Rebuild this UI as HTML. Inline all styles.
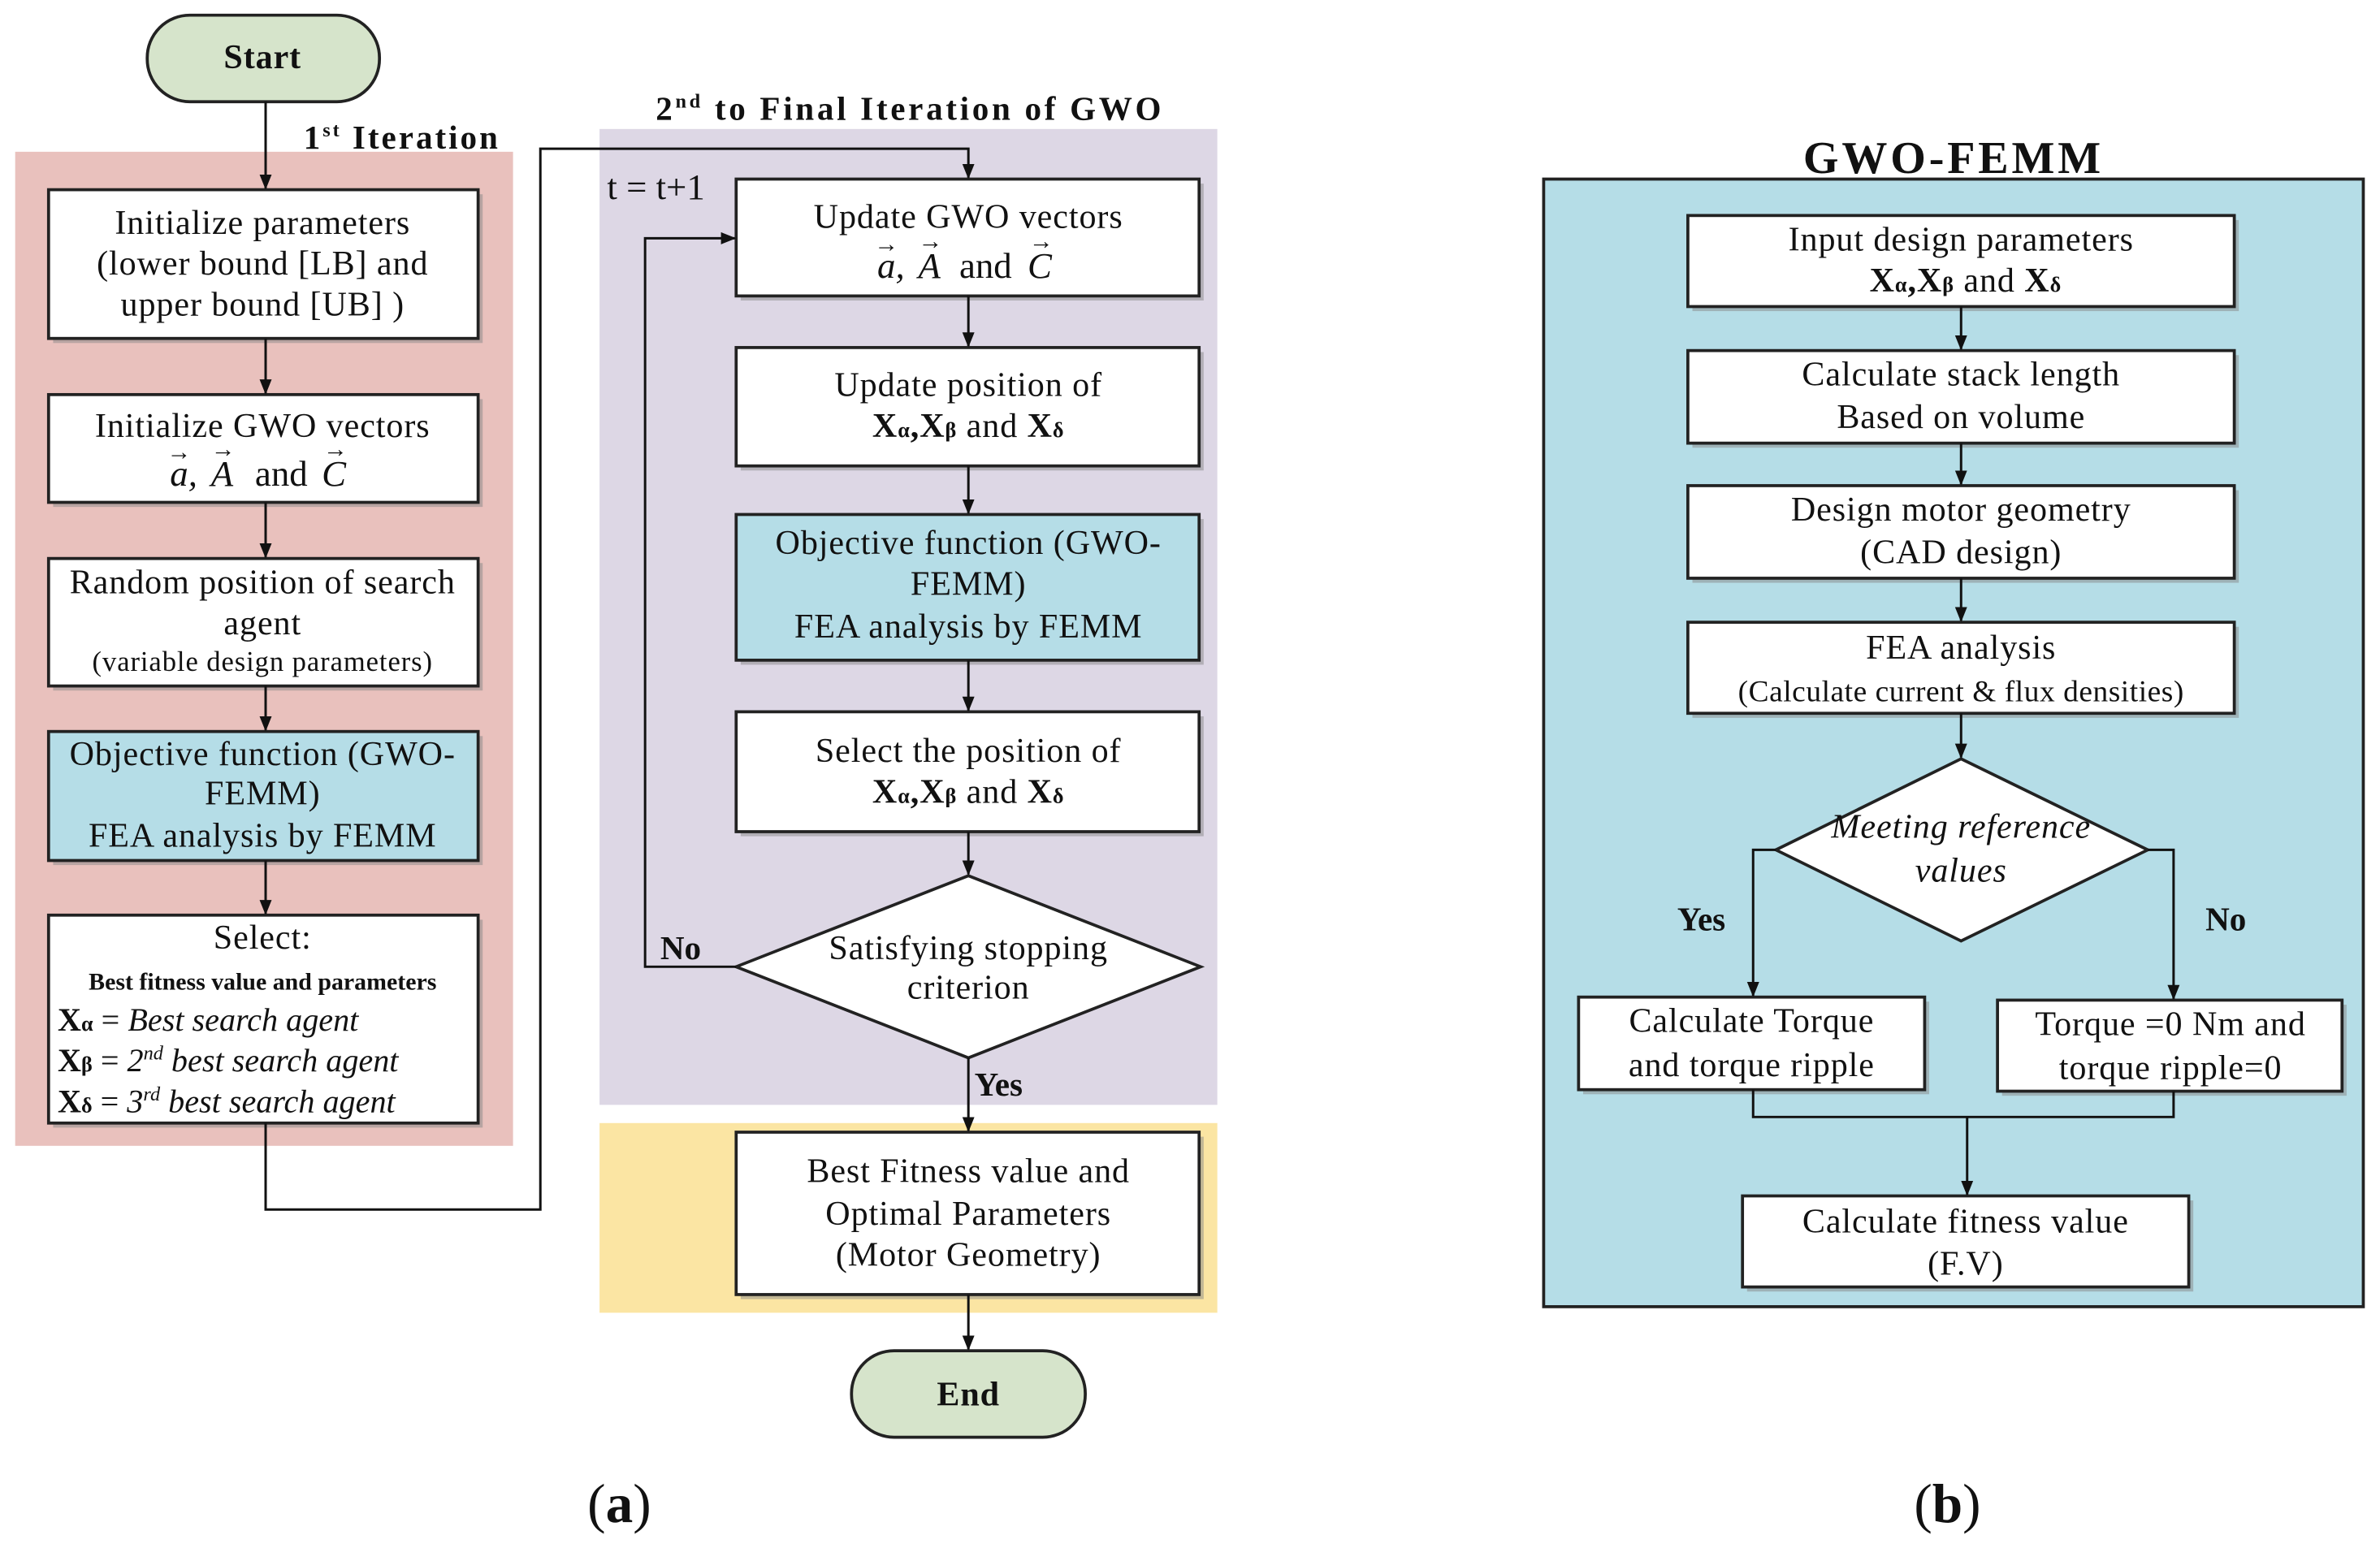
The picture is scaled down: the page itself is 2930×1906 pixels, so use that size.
<!DOCTYPE html>
<html><head><meta charset="utf-8"><style>
html,body{margin:0;padding:0;background:#fff;}
svg{display:block;}
text{font-family:"Liberation Serif",serif;fill:#111;}
</style></head><body>
<svg width="2930" height="1906" viewBox="0 0 1568 1020" preserveAspectRatio="none" xmlns="http://www.w3.org/2000/svg">
<defs>
<marker id="a" markerWidth="10" markerHeight="10" refX="9" refY="5" orient="auto" markerUnits="userSpaceOnUse"><path d="M0,1 L10,5 L0,9 z" fill="#111"/></marker>
</defs>
<g stroke="#222" stroke-width="1.6">
<rect x="10" y="100" width="328" height="655" fill="#e9c1bd" stroke="none"/>
<rect x="395" y="85" width="407" height="643" fill="#ddd7e5" stroke="none"/>
<rect x="395" y="740" width="407" height="125" fill="#fbe5a3" stroke="none"/>
<rect x="1017" y="118" width="540" height="743" fill="#b5dde7" stroke-width="2"/>
</g>
<g fill="#888" opacity="0.5">
<rect x="35" y="128" width="283" height="98"/><rect x="35" y="263" width="283" height="71"/>
<rect x="35" y="371" width="283" height="84"/><rect x="35" y="485" width="283" height="85"/>
<rect x="35" y="606" width="283" height="137"/>
<rect x="488" y="121" width="305" height="77"/><rect x="488" y="232" width="305" height="78"/>
<rect x="488" y="342" width="305" height="96"/><rect x="488" y="472" width="305" height="79"/>
<rect x="488" y="749" width="305" height="107"/>
<rect x="1115" y="145" width="360" height="60"/><rect x="1115" y="234" width="360" height="61"/>
<rect x="1115" y="323" width="360" height="61"/><rect x="1115" y="413" width="360" height="60"/>
<rect x="1043" y="660" width="228" height="61"/><rect x="1319" y="662" width="227" height="60"/>
<rect x="1151" y="791" width="294" height="60"/>
</g>
<g stroke="#222" stroke-width="2">
<rect x="97" y="10" width="153" height="57" rx="28" fill="#d6e4cb"/>
<rect x="561" y="890" width="154" height="57" rx="28" fill="#d6e4cb"/>
<rect x="32" y="125" width="283" height="98" fill="#fff"/>
<rect x="32" y="260" width="283" height="71" fill="#fff"/>
<rect x="32" y="368" width="283" height="84" fill="#fff"/>
<rect x="32" y="482" width="283" height="85" fill="#b5dde7"/>
<rect x="32" y="603" width="283" height="137" fill="#fff"/>
<rect x="485" y="118" width="305" height="77" fill="#fff"/>
<rect x="485" y="229" width="305" height="78" fill="#fff"/>
<rect x="485" y="339" width="305" height="96" fill="#b5dde7"/>
<rect x="485" y="469" width="305" height="79" fill="#fff"/>
<polygon points="638,577 791,637 638,697 485,637" fill="#fff"/>
<rect x="485" y="746" width="305" height="107" fill="#fff"/>
<rect x="1112" y="142" width="360" height="60" fill="#fff"/>
<rect x="1112" y="231" width="360" height="61" fill="#fff"/>
<rect x="1112" y="320" width="360" height="61" fill="#fff"/>
<rect x="1112" y="410" width="360" height="60" fill="#fff"/>
<polygon points="1292,500 1415,560 1292,620 1170,560" fill="#fff"/>
<rect x="1040" y="657" width="228" height="61" fill="#fff"/>
<rect x="1316" y="659" width="227" height="60" fill="#fff"/>
<rect x="1148" y="788" width="294" height="60" fill="#fff"/>
</g>
<g stroke="#111" stroke-width="1.6" fill="none" marker-end="url(#a)">
<path d="M175,67 V124"/><path d="M175,223 V259"/><path d="M175,331 V367"/>
<path d="M175,452 V481"/><path d="M175,567 V602"/>
<path d="M175,740 V797 H356 V98 H638 V117"/>
<path d="M638,195 V228"/><path d="M638,307 V338"/><path d="M638,435 V468"/>
<path d="M638,548 V576"/><path d="M485,637 H425 V157 H484"/>
<path d="M638,697 V745"/><path d="M638,853 V889"/>
<path d="M1292,202 V230"/><path d="M1292,292 V319"/><path d="M1292,381 V409"/><path d="M1292,470 V499"/>
<path d="M1170,560 H1155 V656"/><path d="M1415,560 H1432 V658"/>
<path d="M1296,736 V787"/>
</g>
<g stroke="#111" stroke-width="1.6" fill="none">
<path d="M1155,718 V736 H1432 V719"/>
</g>
<g font-size="22.5" text-anchor="middle" letter-spacing="0.5">
<text x="173" y="45" font-weight="bold">Start</text>
<text x="638" y="926" font-weight="bold">End</text>
<text x="173" y="154">Initialize parameters</text>
<text x="173" y="181">(lower bound [LB] and</text>
<text x="173" y="208">upper bound [UB] )</text>
<text x="173" y="288">Initialize GWO vectors</text>
<text x="173" y="391">Random position of search</text>
<text x="173" y="418">agent</text>
<text x="173" y="442" font-size="18.5">(variable design parameters)</text>
<text x="173" y="504">Objective  function (GWO-</text>
<text x="173" y="530">FEMM)</text>
<text x="173" y="558">FEA analysis by FEMM</text>
<text x="173" y="625">Select:</text>
<text x="173" y="652" font-size="16" font-weight="bold" letter-spacing="0">Best fitness value and parameters</text>
<text x="638" y="150">Update GWO vectors</text>
<text x="638" y="261">Update position of</text>
<text x="638" y="288"><tspan font-weight="bold">X<tspan font-size="14">α</tspan>,X<tspan font-size="14">β</tspan></tspan> and <tspan font-weight="bold">X<tspan font-size="14">δ</tspan></tspan></text>
<text x="638" y="365">Objective  function (GWO-</text>
<text x="638" y="392">FEMM)</text>
<text x="638" y="420">FEA analysis by FEMM</text>
<text x="638" y="502">Select the position of</text>
<text x="638" y="529"><tspan font-weight="bold">X<tspan font-size="14">α</tspan>,X<tspan font-size="14">β</tspan></tspan> and <tspan font-weight="bold">X<tspan font-size="14">δ</tspan></tspan></text>
<text x="638" y="632">Satisfying stopping</text>
<text x="638" y="658">criterion</text>
<text x="638" y="779">Best Fitness value and</text>
<text x="638" y="807">Optimal Parameters</text>
<text x="638" y="834">(Motor Geometry)</text>
<text x="1292" y="165">Input design parameters</text>
<text x="1295" y="192"><tspan font-weight="bold">X<tspan font-size="14">α</tspan>,X<tspan font-size="14">β</tspan></tspan> and <tspan font-weight="bold">X<tspan font-size="14">δ</tspan></tspan></text>
<text x="1292" y="254">Calculate stack length</text>
<text x="1292" y="282">Based on volume</text>
<text x="1292" y="343">Design motor geometry</text>
<text x="1292" y="371">(CAD design)</text>
<text x="1292" y="434">FEA analysis</text>
<text x="1292" y="462" font-size="20" letter-spacing="0.3">(Calculate current &amp; flux densities)</text>
<text x="1292" y="552" font-style="italic">Meeting reference</text>
<text x="1292" y="581" font-style="italic">values</text>
<text x="1154" y="680">Calculate Torque</text>
<text x="1154" y="709">and torque ripple</text>
<text x="1430" y="682">Torque =0 Nm and</text>
<text x="1430" y="711">torque ripple=0</text>
<text x="1295" y="812">Calculate fitness value</text>
<text x="1295" y="840">(F.V)</text>
</g>
<!-- vector notation left -->
<g font-size="24" font-style="italic">
<text x="112" y="320">a,</text><text x="139" y="320">A</text>
<text x="168" y="320" font-style="normal">and</text><text x="212" y="320">C</text>
<text x="578" y="183">a,</text><text x="605" y="183">A</text>
<text x="632" y="183" font-style="normal">and</text><text x="677" y="183">C</text>
</g>
<g font-size="16" font-style="normal">
<text x="110" y="303">→</text><text x="139" y="301">→</text><text x="213" y="301">→</text>
<text x="576" y="166">→</text><text x="605" y="164">→</text><text x="678" y="164">→</text>
</g>
<g font-size="21.5">
<text x="38" y="679"><tspan font-weight="bold">X<tspan font-size="14">α</tspan></tspan> = <tspan font-style="italic">Best search agent</tspan></text>
<text x="38" y="706"><tspan font-weight="bold">X<tspan font-size="14">β</tspan></tspan> = <tspan font-style="italic">2<tspan font-size="13" dy="-8">nd</tspan><tspan dy="8"> best search agent</tspan></tspan></text>
<text x="38" y="733"><tspan font-weight="bold">X<tspan font-size="14">δ</tspan></tspan> = <tspan font-style="italic">3<tspan font-size="13" dy="-8">rd</tspan><tspan dy="8"> best search agent</tspan></tspan></text>
</g>
<g font-weight="bold" font-size="22">
<text x="200" y="98" textLength="128" lengthAdjust="spacing">1<tspan font-size="13" dy="-8">st</tspan><tspan dy="8"> Iteration</tspan></text>
<text x="432" y="79" textLength="333" lengthAdjust="spacing">2<tspan font-size="13" dy="-8">nd</tspan><tspan dy="8"> to Final Iteration of GWO</tspan></text>
<text x="435" y="632">No</text>
<text x="642" y="722">Yes</text>
<text x="1105" y="613">Yes</text>
<text x="1453" y="613">No</text>
<text x="1188" y="114" font-size="30" textLength="196" lengthAdjust="spacing">GWO-FEMM</text>
</g>
<text x="400" y="131" font-size="24">t = t+1</text>
<text x="408" y="1003" font-size="36" text-anchor="middle">(<tspan font-weight="bold">a</tspan>)</text>
<text x="1283" y="1003" font-size="36" text-anchor="middle">(<tspan font-weight="bold">b</tspan>)</text>
</svg>
</body></html>
